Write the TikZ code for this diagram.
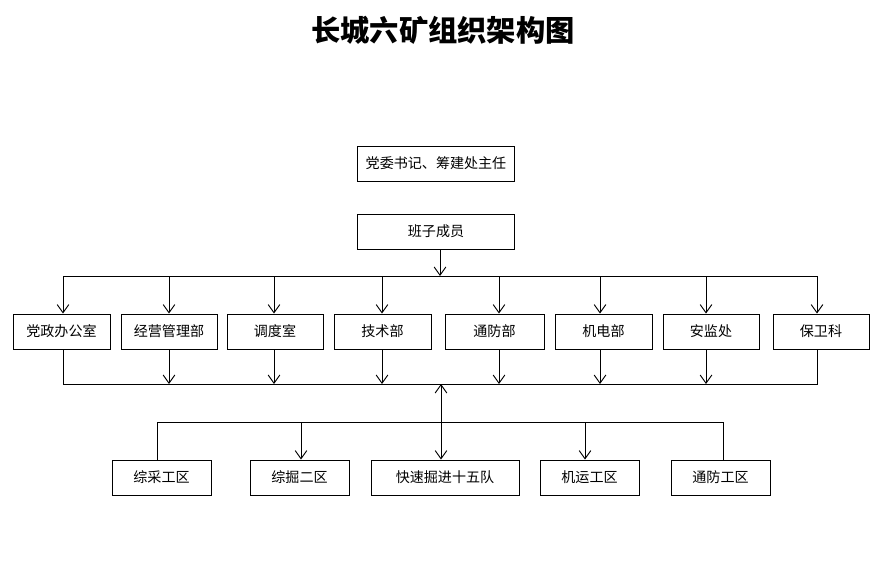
\documentclass[tikz,border=0pt]{standalone}
\usepackage{fontspec}
\newfontfamily\cjk{Noto Sans CJK SC}
\usetikzlibrary{calc}
\usetikzlibrary{arrows.meta}
\tikzset{
  box/.style={draw,thick,minimum height=1.05cm,inner sep=0pt,font=\cjk\fontsize{12}{12}\selectfont},
  arr/.style={->,thick,>={Straight Barb[length=7pt,width=10pt]}}
}
\begin{document}
\begin{tikzpicture}[x=0.03cm,y=-0.03cm]
  \useasboundingbox (0,0) rectangle (878,587);
  \node[font=\cjk\bfseries\fontsize{25}{25}\selectfont] (title) at (443,30) {长城六矿组织架构图};
  \node[box,minimum width=4.71cm] (sec) at (436,163.5) {党委书记、筹建处主任};
  \node[box,minimum width=4.71cm] (team) at (436,231.5) {班子成员};
  % middle row
  \foreach \n/\x/\w/\t in {d1/61.5/97/党政办公室,d2/169/96/经营管理部,d3/275/96/调度室,d4/382.5/97/技术部,
      d5/494.5/99/通防部,d6/603.5/97/机电部,d7/711/96/安监处,d8/821/96/保卫科}{%
    \node[box,minimum width=\w*0.03cm] (\n) at (\x,331.5) {\t};
  }
  % bottom row
  \foreach \n/\x/\w/\t in {b1/161.5/99/综采工区,b2/299.5/99/综掘二区,b3/445/148/快速掘进十五队,
      b4/589.5/99/机运工区,b5/720.5/99/通防工区}{%
    \node[box,minimum width=\w*0.03cm] (\n) at (\x,477.5) {\t};
  }
  \coordinate (top) at (440,276);
  \coordinate (bot) at (441,384);
  \coordinate (low) at (441,422);
  \draw[thick] (63,276) -- (817,276);
  \draw[arr] (team.south -| top) -- (top);
  \foreach \n/\x in {d1/63,d2/169,d3/274,d4/382,d5/499,d6/600,d7/706,d8/817}{%
    \draw[arr] (\x,276) -- (\n.north -| \x,0);
  }
  \draw[thick] (d1.south -| 63,0) -- (63,384) -- (817,384) -- (d8.south -| 817,0);
  \foreach \n/\x in {d2/169,d3/274,d4/382,d5/499,d6/600,d7/706}{%
    \draw[arr] (\n.south -| \x,0) -- (\x,384);
  }
  \draw[thick] (b1.north -| 157,0) -- (157,422) -- (723,422) -- (b5.north -| 723,0);
  \draw[arr,<->] (bot) -- (b3.north -| bot);
  \foreach \n/\x in {b2/301,b4/585}{%
    \draw[arr] (\x,422) -- (\n.north -| \x,0);
  }
\end{tikzpicture}
\end{document}
